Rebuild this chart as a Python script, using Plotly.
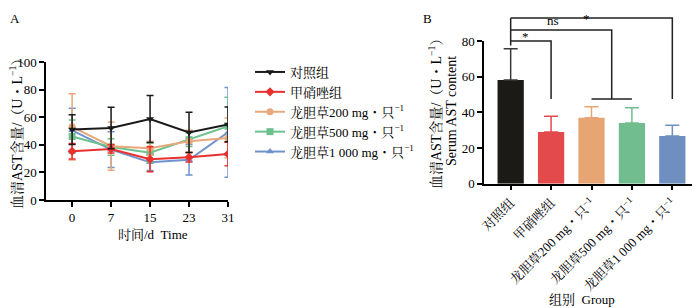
import plotly.graph_objects as go

# ---------------- data ----------------
days = ["0", "7", "15", "23", "31"]

control_mean = [51.0, 52.2, 58.7, 49.0, 54.8]
control_sd = [10.8, 15.0, 17.0, 14.5, 12.6]
mets_mean = [35.3, 37.0, 29.5, 31.0, 33.3]
mets_sd = [5.6, 3.0, 9.0, 3.5, 8.5]
g200_mean = [53.0, 39.0, 37.5, 42.5, 45.0]
g200_sd = [24.0, 17.5, 5.0, 8.0, 14.5]
g500_mean = [46.0, 38.4, 34.3, 43.7, 53.4]
g500_sd = [12.0, 6.0, 7.0, 5.0, 21.0]
g1000_mean = [50.5, 36.5, 27.3, 29.2, 49.0]
g1000_sd = [16.0, 13.0, 6.0, 11.0, 32.5]

series_names = ["对照组", "甲硝唑组",
                "龙胆草200 mg・只<sup>−1</sup>",
                "龙胆草500 mg・只<sup>−1</sup>",
                "龙胆草1 000 mg・只<sup>−1</sup>"]

bar_groups = series_names
bar_mean = [58.1, 29.0, 37.0, 34.0, 26.7]
bar_sd = [17.6, 8.8, 6.2, 8.6, 6.0]

left_yticks = [0, 20, 40, 60, 80, 100]
right_yticks = [0, 20, 40, 60, 80]

# ---------------- styles ----------------
line_colors = ["#1a1a1a", "#e8312f", "#e8a87c", "#6cc28d", "#6f93cc"]
bar_colors = ["#1c1a17", "#e34a4c", "#e8a574", "#72bd8f", "#6e8fc0"]
err_colors = ["#3a3a3a", "#e34a4c", "#e8a574", "#72bd8f", "#6e8fc0"]
symbols = ["triangle-down", "diamond", "circle", "square", "triangle-up"]
FONT = "Liberation Serif, Noto Serif CJK SC, Noto Sans CJK SC, serif"

# the page body has an 8px margin: lay out in screen pixels, shifted by OFF
OFF = 8
W, H = 700 - OFF, 308 - OFF

def px(x):
    return (x - OFF) / W

def py(y):
    return 1 - (y - OFF) / H

# left subplot (screen pixels)
LX0, LX1 = 46, 228
LY0, LY1 = 200, 62
# right subplot
RX0, RX1 = 484, 699
RY0, RY1 = 183.7, 41

fig = go.Figure()

means = [control_mean, mets_mean, g200_mean, g500_mean, g1000_mean]
sds = [control_sd, mets_sd, g200_sd, g500_sd, g1000_sd]

for i in reversed(range(5)):
    fig.add_trace(go.Scatter(
        x=days, y=means[i], name=series_names[i],
        mode="lines+markers",
        line=dict(color=line_colors[i], width=2),
        marker=dict(symbol=symbols[i], size=7, color=line_colors[i]),
        error_y=dict(type="data", array=sds[i], visible=True,
                     color=line_colors[i], thickness=1.5, width=3.5),
        legendrank=i + 1,
        xaxis="x", yaxis="y",
    ))

for i in range(5):
    fig.add_trace(go.Bar(
        x=[bar_groups[i]], y=[bar_mean[i]],
        marker=dict(color=bar_colors[i], line=dict(width=0)),
        width=0.65,
        error_y=dict(type="data", array=[bar_sd[i]], arrayminus=[0],
                     symmetric=False, visible=True, color=err_colors[i],
                     thickness=1.5, width=7),
        showlegend=False,
        xaxis="x2", yaxis="y2",
    ))

axis_common = dict(showline=True, linecolor="black", linewidth=1.5,
                   ticks="outside", ticklen=5, tickwidth=1.5, tickcolor="black",
                   showgrid=False, zeroline=False, automargin=False,
                   tickfont=dict(family=FONT, size=13, color="black"))

fig.update_layout(
    template="none",
    width=W, height=H,
    margin=dict(l=0, r=0, t=0, b=0, pad=0),
    paper_bgcolor="white", plot_bgcolor="white",
    font=dict(family=FONT, size=13, color="black"),
    barmode="overlay",
    xaxis=dict(domain=[px(LX0), px(LX1)], type="category",
               categoryorder="array", categoryarray=days,
               range=[-0.67, 4], anchor="y", **axis_common),
    yaxis=dict(domain=[py(LY0), py(LY1)], range=[0, 100],
               tickvals=left_yticks, anchor="x", **axis_common),
    xaxis2=dict(domain=[px(RX0), px(RX1)], type="category",
                categoryorder="array", categoryarray=bar_groups,
                range=[-0.66, 4.66], anchor="y2", tickangle=-45,
                **axis_common),
    yaxis2=dict(domain=[py(RY0), py(RY1)], range=[0, 80],
                tickvals=right_yticks, anchor="x2", **axis_common),
    legend=dict(x=px(250), y=py(57), xanchor="left", yanchor="top",
                font=dict(family=FONT, size=13, color="black"),
                itemwidth=30, tracegroupgap=0, bgcolor="rgba(0,0,0,0)"),
)

# helpers: right-axis value / category index -> paper
def ry(v):
    d0, d1 = py(RY0), py(RY1)
    return d0 + v / 80 * (d1 - d0)

def rx(idx):
    d0, d1 = px(RX0), px(RX1)
    return d0 + (idx + 0.66) / 5.32 * (d1 - d0)

line = dict(color="#222222", width=1.5)
drop = 47.5
levels = [80, 86.2, 92.9]
fig.add_shape(type="path", xref="paper", yref="paper",
              path=f"M {rx(0)} {ry(77.5)} L {rx(0)} {ry(levels[2])} "
                   f"M {rx(0)} {ry(levels[0])} L {rx(1)} {ry(levels[0])} L {rx(1)} {ry(drop)}",
              line=line)
fig.add_shape(type="path", xref="paper", yref="paper",
              path=f"M {rx(0)} {ry(levels[1])} L {rx(2.5)} {ry(levels[1])} L {rx(2.5)} {ry(drop)} "
                   f"M {rx(2)} {ry(drop)} L {rx(3)} {ry(drop)}",
              line=line)
fig.add_shape(type="path", xref="paper", yref="paper",
              path=f"M {rx(0)} {ry(levels[2])} L {rx(4)} {ry(levels[2])} L {rx(4)} {ry(drop)}",
              line=line)

# significance marks (index on category axis, screen y of text top)
sig = [(0.5, 27, "*"), (1.25, 11, "ns"), (2.0, 8.5, "*")]
for xi, ytop, txt in sig:
    fig.add_annotation(x=rx(xi), y=py(ytop), xref="paper", yref="paper",
                       text=txt, showarrow=False, yanchor="top",
                       font=dict(family=FONT, size=13, color="black"))

ann = [
    dict(x=px(8), y=py(8.5), text="A", xanchor="left", yanchor="top", textangle=0, size=13),
    dict(x=px(427), y=py(8.5), text="B", xanchor="center", yanchor="top", textangle=0, size=13),
    dict(x=px(153), y=py(234), text="时间/d\u00a0\u00a0Time", xanchor="center", yanchor="middle", textangle=0, size=13),
    dict(x=px(582), y=py(299), text="组别\u00a0\u00a0Group", xanchor="center", yanchor="middle", textangle=0, size=13),
    dict(x=px(16), y=py(131), text="血清AST含量/（U・L<sup>−1</sup>）", xanchor="center", yanchor="middle", textangle=-90, size=14),
    dict(x=px(435), y=py(111), text="血清AST含量/（U・L<sup>−1</sup>）", xanchor="center", yanchor="middle", textangle=-90, size=14),
    dict(x=px(452), y=py(111), text="Serum AST content", xanchor="center", yanchor="middle", textangle=-90, size=14),
]
for a in ann:
    size = a.pop("size")
    fig.add_annotation(xref="paper", yref="paper", showarrow=False,
                       font=dict(family=FONT, size=size, color="black"), **a)

fig.write_html("out.html")
